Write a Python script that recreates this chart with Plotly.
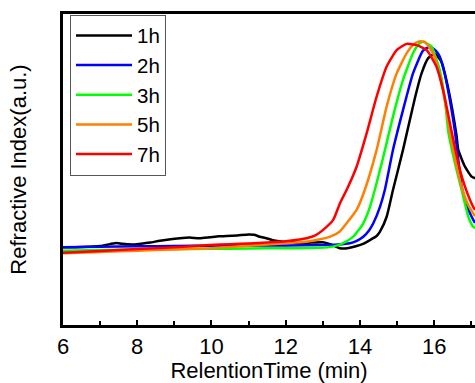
import plotly.graph_objects as go

labels = ["1h", "2h", "3h", "5h", "7h"]
colors = ["#000000", "#0000ff", "#00ff00", "#ff8000", "#ff0000"]

t_1h = [6.00, 6.5, 7.0, 7.26, 7.45, 7.6, 7.9, 8.2, 8.34, 8.61, 8.9, 9.15, 9.4, 9.68, 9.95, 10.2, 10.4, 10.7,
        11.0, 11.15, 11.3, 11.48, 11.65, 11.92, 12.2, 12.38, 12.7, 13.0, 13.2, 13.46, 13.6, 13.91, 14.1, 14.27,
        14.45, 14.54, 14.72, 14.89, 15.16, 15.48, 15.66, 15.84, 16.02, 16.2, 16.38, 16.6, 16.65, 16.83, 17.01, 17.1]
v_1h = [25.0, 25.1, 25.4, 26.0, 26.4, 26.1, 25.9, 26.3, 26.5, 27.1, 27.6, 27.9, 28.1, 27.9, 28.2, 28.5, 28.6, 28.8,
        29.1, 29.0, 28.4, 27.9, 27.3, 26.8, 26.6, 26.3, 26.5, 26.6, 26.0, 24.7, 24.6, 25.4, 26.2, 27.3,
        28.6, 30.0, 34.8, 43.4, 56.3, 72.9, 80.9, 85.8, 87.2, 84.5, 76.0, 61.1, 56.3, 50.9, 47.7, 47.2]

t_2h = [6.00, 7.0, 8.0, 9.0, 10.0, 11.0, 12.0, 13.0, 13.4, 13.73, 13.9, 14.09, 14.25, 14.36, 14.54, 14.67, 14.89,
        15.16, 15.43, 15.70, 15.89, 16.06, 16.15, 16.29, 16.42, 16.56, 16.65, 16.74, 16.87, 17.01, 17.1]
v_2h = [25.0, 25.2, 25.3, 25.4, 25.5, 25.6, 25.6, 25.7, 25.9, 26.3, 27.0, 28.4, 30.5, 32.7, 38.0, 43.4, 56.3,
        69.1, 80.9, 88.2, 89.5, 88.0, 86.3, 80.4, 72.5, 62.2, 53.1, 44.5, 38.6, 34.8, 32.8]

t_3h = [6.00, 7.0, 8.0, 9.0, 10.0, 11.0, 12.0, 12.9, 13.27, 13.55, 13.82, 13.95, 14.09, 14.27, 14.40, 14.63, 14.89,
        15.16, 15.43, 15.60, 15.70, 15.93, 16.02, 16.15, 16.29, 16.38, 16.56, 16.74, 16.92, 17.05, 17.1]
v_3h = [23.9, 24.1, 24.3, 24.4, 24.5, 24.6, 24.7, 24.8, 25.2, 26.3, 28.4, 30.3, 32.7, 38.0, 43.4, 54.1, 67.0,
        78.8, 87.4, 90.5, 91.1, 89.5, 86.8, 82.0, 72.3, 62.2, 52.0, 43.4, 34.8, 31.6, 31.2]

t_5h = [6.00, 7.0, 8.0, 9.0, 9.95, 11.0, 12.0, 12.56, 12.9, 13.2, 13.45, 13.64, 13.91, 14.13, 14.45, 14.72, 14.99,
        15.26, 15.45, 15.6, 15.75, 15.97, 16.15, 16.31, 16.42, 16.6, 16.78, 16.92, 17.05, 17.1]
v_5h = [23.1, 23.5, 23.9, 24.3, 24.7, 25.5, 26.3, 26.8, 27.5, 28.4, 30.0, 32.7, 37.0, 43.4, 56.3, 70.3, 80.9,
        87.4, 90.3, 91.2, 91.0, 87.4, 80.2, 70.7, 62.2, 51.4, 42.8, 38.5, 35.9, 35.0]

t_7h = [6.00, 7.0, 8.0, 9.0, 9.95, 10.5, 11.0, 11.5, 12.11, 12.56, 12.8, 13.0, 13.28, 13.46, 13.64, 13.91, 14.18,
        14.45, 14.72, 14.99, 15.26, 15.53, 15.80, 16.06, 16.24, 16.47, 16.65, 16.83, 17.05, 17.1]
v_7h = [23.2, 23.8, 24.4, 25.0, 25.7, 26.0, 26.2, 26.5, 27.1, 27.9, 28.8, 30.5, 33.8, 39.1, 43.4, 50.9, 61.6,
        73.4, 83.1, 88.4, 90.4, 90.0, 88.4, 83.1, 75.6, 62.2, 52.0, 44.5, 38.0, 37.0]

series_t = [t_1h, t_2h, t_3h, t_5h, t_7h]
series_v = [v_1h, v_2h, v_3h, v_5h, v_7h]

x_ticks = [6, 8, 10, 12, 14, 16]

FONT = "Liberation Sans, Arial, sans-serif"

fig = go.Figure()
for name, col, tt, vv in zip(labels, colors, series_t, series_v):
    fig.add_trace(go.Scatter(x=tt, y=vv, mode="lines", name=name,
                             line=dict(color=col, width=2.5, shape="spline", smoothing=0.5)))

fig.update_layout(
    width=475, height=383,
    margin=dict(l=63, r=0, t=14, b=58),
    paper_bgcolor="white", plot_bgcolor="white",
    font=dict(family=FONT, color="black", size=22),
    showlegend=True,
    legend=dict(x=0.017, y=0.998, xanchor="left", yanchor="top",
                bgcolor="white", bordercolor="#555555", borderwidth=1,
                font=dict(size=20.5, family=FONT), itemwidth=56, tracegroupgap=0),
    xaxis=dict(range=[6, 17.1], tickvals=x_ticks, ticktext=[str(v) for v in x_ticks],
               showline=True, linecolor="black", linewidth=3, mirror=True,
               ticks="inside", ticklen=5, tickwidth=2, tickcolor="black",
               minor=dict(ticks="inside", ticklen=4, tickwidth=2, tickcolor="black", dtick=1),
               showgrid=False, zeroline=False, automargin=False,
               tickfont=dict(size=22),
               title=dict(text="RelentionTime (min)", font=dict(size=22), standoff=2)),
    yaxis=dict(range=[0, 100], showticklabels=False, ticks="",
               showline=True, linecolor="black", linewidth=3, mirror=False,
               showgrid=False, zeroline=False, automargin=False,
               title=dict(text="Refractive Index(a.u.)", font=dict(size=22), standoff=28)),
)

fig.write_html("out.html", config={"displayModeBar": False},
               post_script="document.body.style.margin='0';document.body.style.padding='0';")
